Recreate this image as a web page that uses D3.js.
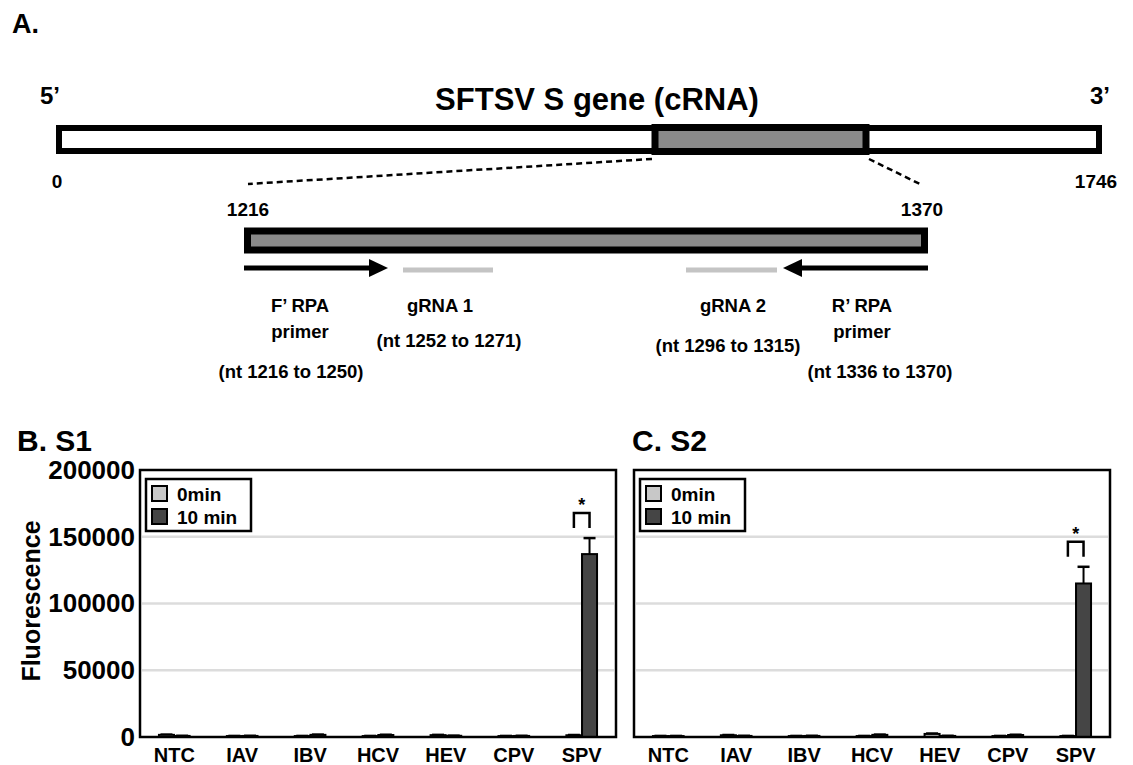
<!DOCTYPE html>
<html>
<head>
<meta charset="utf-8">
<script src="https://cdn.jsdelivr.net/npm/d3@7"></script>
<style>
	body { margin: 0; background: #fff; }
	svg { font-family: 'Liberation Sans', Arial, sans-serif; font-weight: bold; }
</style>
</head>
<body>
<svg id="fig" width="1133" height="765"></svg>
<script>
// A. gene map data
var geneLength = 1746;
var regionStart = 1216;
var regionEnd = 1370;
var featureNames = ['F’ RPA', 'gRNA 1', 'gRNA 2', 'R’ RPA'];
var featureStart = [1216, 1252, 1296, 1336];
var featureEnd = [1250, 1271, 1315, 1370];

// B./C. bar chart data
var categories = ['NTC', 'IAV', 'IBV', 'HCV', 'HEV', 'CPV', 'SPV'];
var seriesNames = ['0min', '10 min'];
var yTicks = [0, 50000, 100000, 150000, 200000];

var s1_0min = [1600, 700, 700, 700, 1400, 700, 1300];
var s1_10min = [800, 800, 1600, 1500, 900, 800, 137000];
var s1_0minErr = [200, 100, 100, 100, 200, 100, 200];
var s1_10minErr = [100, 100, 200, 200, 100, 100, 12000];

var s2_0min = [700, 1300, 700, 700, 2300, 700, 700];
var s2_10min = [700, 800, 800, 1600, 800, 1500, 115000];
var s2_0minErr = [100, 200, 100, 100, 300, 100, 100];
var s2_10minErr = [100, 100, 100, 200, 100, 200, 12500];

var svg = d3.select('svg#fig');

// ---------- A. ----------
svg.append('text').attr('x', 12).attr('y', 33).style('font-size', '27px').text('A.');

// the map is schematic, so the scales are piecewise
var xGene = d3.scaleLinear()
	.domain([0, regionStart, regionEnd, geneLength])
	.range([59, 655, 866, 1099]);

var xZoom = d3.scaleLinear()
	.domain([1216, 1250, 1252, 1271, 1296, 1315, 1336, 1370])
	.range([244, 388, 403, 493, 686, 777, 783, 928]);

svg.append('text').attr('x', 40).attr('y', 104).style('font-size', '24px').text('5’');
svg.append('text').attr('x', 1090).attr('y', 104).style('font-size', '24px').text('3’');
svg.append('text').attr('x', 597).attr('y', 110).attr('text-anchor', 'middle')
	.style('font-size', '31px').text('SFTSV S gene (cRNA)');

svg.append('rect')							// whole gene
	.attr('x', xGene(0)).attr('y', 128)
	.attr('width', xGene(geneLength) - xGene(0)).attr('height', 23)
	.style('fill', '#fff').style('stroke', '#000').style('stroke-width', 6);

svg.append('rect')							// amplified region
	.attr('x', xGene(regionStart)).attr('y', 127.5)
	.attr('width', xGene(regionEnd) - xGene(regionStart)).attr('height', 24)
	.style('fill', '#8a8a8a').style('stroke', '#000').style('stroke-width', 7);

svg.append('text').attr('x', xGene(0) - 2).attr('y', 188).attr('text-anchor', 'middle')
	.style('font-size', '19px').text(0);
svg.append('text').attr('x', xGene(geneLength) - 3).attr('y', 188).attr('text-anchor', 'middle')
	.style('font-size', '19px').text(geneLength);

// dashed zoom lines
svg.append('line')
	.attr('x1', xGene(regionStart) - 3).attr('y1', 159)
	.attr('x2', xZoom(regionStart) + 4).attr('y2', 184)
	.style('stroke', '#000').style('stroke-width', 2.5).style('stroke-dasharray', '6,4');
svg.append('line')
	.attr('x1', xGene(regionEnd) + 3).attr('y1', 159)
	.attr('x2', xZoom(regionEnd) - 6).attr('y2', 185)
	.style('stroke', '#000').style('stroke-width', 2.5).style('stroke-dasharray', '6,4');

svg.append('text').attr('x', xZoom(regionStart) + 4).attr('y', 216).attr('text-anchor', 'middle')
	.style('font-size', '19px').text(regionStart);
svg.append('text').attr('x', xZoom(regionEnd) - 6).attr('y', 216).attr('text-anchor', 'middle')
	.style('font-size', '19px').text(regionEnd);

svg.append('rect')							// zoomed region
	.attr('x', xZoom(regionStart) + 3.5).attr('y', 231)
	.attr('width', xZoom(regionEnd) - xZoom(regionStart) - 7).attr('height', 19)
	.style('fill', '#8a8a8a').style('stroke', '#000').style('stroke-width', 7);

// primers (arrows) and gRNAs (grey lines)
var fy = 268;
svg.append('line')
	.attr('x1', xZoom(featureStart[0])).attr('x2', xZoom(featureEnd[0]) - 16)
	.attr('y1', fy).attr('y2', fy)
	.style('stroke', '#000').style('stroke-width', 5);
svg.append('path')
	.attr('d', 'M' + (xZoom(featureEnd[0]) - 19) + ',' + (fy - 9) + 'L' + xZoom(featureEnd[0]) + ',' + fy +
		'L' + (xZoom(featureEnd[0]) - 19) + ',' + (fy + 9) + 'Z')
	.style('fill', '#000');

svg.append('line')
	.attr('x1', xZoom(featureEnd[3])).attr('x2', xZoom(featureStart[3]) + 16)
	.attr('y1', fy).attr('y2', fy)
	.style('stroke', '#000').style('stroke-width', 5);
svg.append('path')
	.attr('d', 'M' + (xZoom(featureStart[3]) + 19) + ',' + (fy - 9) + 'L' + xZoom(featureStart[3]) + ',' + fy +
		'L' + (xZoom(featureStart[3]) + 19) + ',' + (fy + 9) + 'Z')
	.style('fill', '#000');

[1, 2].forEach(function (i) {
	svg.append('line')
		.attr('x1', xZoom(featureStart[i])).attr('x2', xZoom(featureEnd[i]))
		.attr('y1', fy + 2).attr('y2', fy + 2)
		.style('stroke', '#c4c4c4').style('stroke-width', 5);
});

function label(x, y, t) {
	svg.append('text').attr('x', x).attr('y', y).attr('text-anchor', 'middle')
		.style('font-size', '18.5px').text(t);
}
function ntText(i) {
	return '(nt ' + featureStart[i] + ' to ' + featureEnd[i] + ')';
}
label(300, 312, featureNames[0]);
label(300, 338, 'primer');
label(291, 378, ntText(0));
label(440, 312, featureNames[1]);
label(449, 347, ntText(1));
label(733, 312, featureNames[2]);
label(728, 352, ntText(2));
label(862, 312, featureNames[3]);
label(862, 338, 'primer');
label(880, 378, ntText(3));

// ---------- B. / C. ----------
var plotTop = 470, plotBottom = 737, plotWidth = 476;
var y = d3.scaleLinear().domain([0, 200000]).range([plotBottom, plotTop]);
var colors = ['#c8c8c8', '#454545'];

function drawPanel(left, title, titleX, vals0, vals10, err0, err10, showY) {
	var g = svg.append('g');
	var x0 = d3.scaleBand().domain(categories).range([left, left + plotWidth])
		.paddingInner(0.53).paddingOuter(0.27);
	var x1 = d3.scaleBand().domain(seriesNames).range([0, x0.bandwidth()]).padding(0.04);

	svg.append('text').attr('x', titleX).attr('y', 451)
		.style('font-size', '30px').text(title);

	// gridlines
	g.selectAll('line.grid')
		.data(yTicks.slice(1, 4))
		.enter()
		.append('line')
		.attr('class', 'grid')
		.attr('x1', left + 2).attr('x2', left + plotWidth - 2)
		.attr('y1', function (d) { return y(d); })
		.attr('y2', function (d) { return y(d); })
		.style('stroke', '#dcdcdc').style('stroke-width', 2.5);

	var rows = categories.map(function (c, i) {
		return [
			{ c: c, s: seriesNames[0], v: vals0[i], e: err0[i] },
			{ c: c, s: seriesNames[1], v: vals10[i], e: err10[i] }
		];
	});
	var flat = [].concat.apply([], rows);

	g.selectAll('line.err')
		.data(flat)
		.enter()
		.append('line')
		.attr('class', 'err')
		.attr('x1', function (d) { return x0(d.c) + x1(d.s) + x1.bandwidth() / 2; })
		.attr('x2', function (d) { return x0(d.c) + x1(d.s) + x1.bandwidth() / 2; })
		.attr('y1', function (d) { return y(d.v); })
		.attr('y2', function (d) { return y(d.v + d.e); })
		.style('stroke', '#000').style('stroke-width', 2);

	g.selectAll('line.cap')
		.data(flat)
		.enter()
		.append('line')
		.attr('class', 'cap')
		.attr('x1', function (d) { return x0(d.c) + x1(d.s) + x1.bandwidth() / 2 - 6; })
		.attr('x2', function (d) { return x0(d.c) + x1(d.s) + x1.bandwidth() / 2 + 6; })
		.attr('y1', function (d) { return y(d.v + d.e); })
		.attr('y2', function (d) { return y(d.v + d.e); })
		.style('stroke', '#000').style('stroke-width', 2.5);

	g.selectAll('rect.bar')
		.data(flat)
		.enter()
		.append('rect')
		.attr('class', 'bar')
		.attr('x', function (d) { return x0(d.c) + x1(d.s); })
		.attr('width', x1.bandwidth())
		.attr('y', function (d) { return y(d.v); })
		.attr('height', function (d) { return plotBottom - y(d.v); })
		.style('fill', function (d, i) { return colors[i % 2]; })
		.style('stroke', '#000').style('stroke-width', 2);

	// significance bracket on the last category
	var last = rows[rows.length - 1];
	var bx0 = x0(last[0].c) + x1(last[0].s) + x1.bandwidth() / 2;
	var bx1 = x0(last[1].c) + x1(last[1].s) + x1.bandwidth() / 2;
	var by = y(last[1].v + last[1].e) - 10;
	g.append('path')
		.attr('d', 'M' + bx0 + ',' + by + 'V' + (by - 15) + 'H' + bx1 + 'V' + by)
		.style('fill', 'none').style('stroke', '#000').style('stroke-width', 2.5);
	g.append('text')
		.attr('x', (bx0 + bx1) / 2).attr('y', by - 17).attr('text-anchor', 'middle')
		.style('font-size', '18px').text('*');

	// frame
	g.append('rect')
		.attr('x', left).attr('y', plotTop)
		.attr('width', plotWidth).attr('height', plotBottom - plotTop)
		.style('fill', 'none').style('stroke', '#000').style('stroke-width', 2.5);

	// x axis labels
	var xa = g.append('g')
		.attr('transform', 'translate(0,' + plotBottom + ')')
		.call(d3.axisBottom(x0).tickSize(0).tickPadding(11));
	xa.select('.domain').remove();
	xa.selectAll('text').style('font-size', '20px').style('font-family', 'Liberation Sans, Arial')
		.style('font-weight', 'bold').attr('fill', '#000');

	if (showY) {
		var ya = g.append('g')
			.attr('transform', 'translate(' + left + ',0)')
			.call(d3.axisLeft(y).tickValues(yTicks).tickSize(0).tickPadding(5).tickFormat(d3.format('d')));
		ya.select('.domain').remove();
		ya.selectAll('text').style('font-size', '26px').style('font-family', 'Liberation Sans, Arial')
			.style('font-weight', 'bold').attr('fill', '#000');
	}

	// legend
	var lg = g.append('g').attr('transform', 'translate(' + (left + 6) + ',479)');
	lg.append('rect').attr('width', 105).attr('height', 52)
		.style('fill', '#fff').style('stroke', '#000').style('stroke-width', 2.5);
	lg.selectAll('rect.sw')
		.data(seriesNames)
		.enter()
		.append('rect')
		.attr('class', 'sw')
		.attr('x', 6).attr('y', function (d, i) { return 7 + i * 23; })
		.attr('width', 15).attr('height', 15)
		.style('fill', function (d, i) { return colors[i]; })
		.style('stroke', '#000').style('stroke-width', 2);
	lg.selectAll('text')
		.data(seriesNames)
		.enter()
		.append('text')
		.attr('x', 31).attr('y', function (d, i) { return 22 + i * 23; })
		.style('font-size', '19px').text(function (d) { return d; });
}

drawPanel(140, 'B. S1', 17, s1_0min, s1_10min, s1_0minErr, s1_10minErr, true);
drawPanel(634, 'C. S2', 632, s2_0min, s2_10min, s2_0minErr, s2_10minErr, false);

svg.append('text')
	.attr('transform', 'translate(40,601) rotate(-90)')
	.attr('text-anchor', 'middle')
	.style('font-size', '25px')
	.text('Fluorescence');
</script>
</body>
</html>
